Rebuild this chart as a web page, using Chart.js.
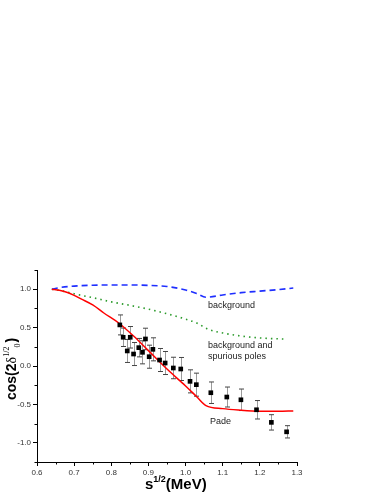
<!DOCTYPE html>
<html>
<head>
<meta charset="utf-8">
<script src="https://cdn.jsdelivr.net/npm/chart.js@4.4.1/dist/chart.umd.min.js"></script>
<style>
  html, body { margin: 0; padding: 0; background: #fff; }
  #wrap { width: 382px; height: 494px; }
</style>
</head>
<body>
<div id="wrap"><canvas id="myChart" width="382" height="494"></canvas></div>
<script>
// data points with error bars
const dataX = [0.823, 0.832, 0.843, 0.851, 0.860, 0.874, 0.884, 0.892, 0.902, 0.912, 0.930,
  0.945, 0.967, 0.987, 1.012, 1.029, 1.068, 1.111, 1.149, 1.191, 1.231, 1.272];
const dataY = [0.535, 0.374, 0.196, 0.374, 0.156, 0.239, 0.178, 0.352, 0.121, 0.217, 0.078,
  0.039, -0.026, -0.039, -0.200, -0.243, -0.348, -0.404, -0.440, -0.570, -0.734, -0.857];
const dataErr = [0.13, 0.12, 0.15, 0.14, 0.15, 0.12, 0.15, 0.14, 0.15, 0.15, 0.15,
  0.15, 0.14, 0.15, 0.15, 0.15, 0.14, 0.13, 0.14, 0.12, 0.10, 0.08];

// Pade curve
const padeX = [0.64, 0.66, 0.68, 0.70, 0.72, 0.75, 0.78, 0.82, 0.86, 0.90, 0.95, 1.00, 1.03, 1.055, 1.10, 1.15, 1.20, 1.25, 1.29];
const padeY = [1.0, 0.985, 0.96, 0.92, 0.87, 0.795, 0.69, 0.56, 0.39, 0.2, -0.04, -0.26, -0.4, -0.515, -0.555, -0.575, -0.588, -0.59, -0.585];

// background
const bgX = [0.64, 0.66, 0.70, 0.75, 0.80, 0.85, 0.90, 0.95, 1.00, 1.03, 1.055, 1.10, 1.15, 1.20, 1.25, 1.29];
const bgY = [1.0, 1.02, 1.04, 1.052, 1.055, 1.055, 1.05, 1.035, 0.99, 0.945, 0.895, 0.925, 0.955, 0.975, 0.995, 1.015];

// background and spurious poles
const spX = [0.64, 0.67, 0.70, 0.75, 0.80, 0.85, 0.90, 0.95, 1.00, 1.03, 1.06, 1.10, 1.15, 1.20, 1.27];
const spY = [1.0, 0.975, 0.94, 0.89, 0.835, 0.79, 0.74, 0.68, 0.61, 0.56, 0.48, 0.43, 0.39, 0.365, 0.35];

const xTicks = [0.6, 0.7, 0.8, 0.9, 1.0, 1.1, 1.2, 1.3];
const yTicks = [-1.0, -0.5, 0.0, 0.5, 1.0];

function pts(xs, ys) {
  return xs.map((x, i) => ({ x: x, y: ys[i] }));
}

// barres d'erreur + petites graduations + titres
const extras = {
  id: 'extras',
  beforeDatasetsDraw(chart) {
    const c = chart.ctx, xs = chart.scales.x, ys = chart.scales.y;
    c.save();
    c.lineWidth = 1;
    dataX.forEach((x, i) => {
      const px = Math.round(xs.getPixelForValue(x)) + 0.5;
      const top = ys.getPixelForValue(dataY[i] + dataErr[i]);
      const bot = ys.getPixelForValue(dataY[i] - dataErr[i]);
      c.strokeStyle = '#9a9a9a';
      c.beginPath(); c.moveTo(px, top); c.lineTo(px, bot); c.stroke();
      c.strokeStyle = '#444';
      c.beginPath();
      c.moveTo(px - 2.5, top); c.lineTo(px + 2.5, top);
      c.moveTo(px - 2.5, bot); c.lineTo(px + 2.5, bot);
      c.stroke();
    });
    c.restore();
  },
  afterDraw(chart) {
    const c = chart.ctx, xs = chart.scales.x, ys = chart.scales.y;
    const a = chart.chartArea;
    c.save();
    // minor ticks
    c.strokeStyle = '#000';
    c.lineWidth = 1;
    c.beginPath();
    for (let v = 0.65; v < 1.3; v += 0.1) {
      const px = Math.round(xs.getPixelForValue(v)) + 0.5;
      c.moveTo(px, a.bottom); c.lineTo(px, a.bottom + 2.5);
    }
    for (let v = -1.25; v <= 1.25; v += 0.5) {
      const py = Math.round(ys.getPixelForValue(v)) + 0.5;
      c.moveTo(a.left, py); c.lineTo(a.left - 2.5, py);
    }
    c.stroke();

    // annotations
    c.fillStyle = '#222';
    c.font = '9px "Liberation Sans", Arial, sans-serif';
    c.textBaseline = 'alphabetic';
    c.fillText('background', 208, 308);
    c.fillText('background and', 208, 348);
    c.fillText('spurious poles', 208, 359);
    c.fillText('Pade', 210, 424);

    // x title
    c.fillStyle = '#000';
    let x = 145;
    const base = 489;
    c.font = 'bold 15px "Liberation Sans", Arial, sans-serif';
    c.fillText('s', x, base); x += c.measureText('s').width;
    c.font = 'bold 9px "Liberation Sans", Arial, sans-serif';
    c.fillText('1/2', x, base - 7); x += c.measureText('1/2').width;
    c.font = 'bold 15px "Liberation Sans", Arial, sans-serif';
    c.fillText('(MeV)', x, base);

    // y title (rotated)
    c.translate(16, 400);
    c.rotate(-Math.PI / 2);
    x = 0;
    c.font = 'bold 14px "Liberation Sans", Arial, sans-serif';
    c.fillText('cos(2', x, 0); x += c.measureText('cos(2').width;
    c.font = '14px "Liberation Serif", "Times New Roman", serif';
    c.fillText('\u03b4', x, 0); const dx = x + c.measureText('\u03b4').width;
    c.font = '8px "Liberation Serif", "Times New Roman", serif';
    c.fillText('1/2', dx, -7);
    const w1 = c.measureText('1/2').width;
    c.fillText('0', dx + w1 - 1, 4);
    x = dx + w1 + 4;
    c.font = 'bold 14px "Liberation Sans", Arial, sans-serif';
    c.fillText(')', x, 0);
    c.restore();
  }
};

const ctx = document.getElementById('myChart').getContext('2d');
const myChart = new Chart(ctx, {
  type: 'scatter',
  data: {
    datasets: [{
      label: 'data',
      data: pts(dataX, dataY),
      showLine: false,
      pointStyle: 'rect',
      pointRadius: 3.3,
      backgroundColor: '#000',
      borderColor: '#000',
      borderWidth: 0
    }, {
      label: 'Pade',
      data: pts(padeX, padeY),
      showLine: true,
      borderColor: '#ff0000',
      borderWidth: 1.5,
      pointRadius: 0,
      cubicInterpolationMode: 'monotone'
    }, {
      label: 'background',
      data: pts(bgX, bgY),
      showLine: true,
      borderColor: '#1f2fff',
      borderWidth: 1.6,
      borderDash: [6, 4],
      pointRadius: 0,
      cubicInterpolationMode: 'monotone'
    }, {
      label: 'background and spurious poles',
      data: pts(spX, spY),
      showLine: true,
      borderColor: '#2a9a2a',
      borderWidth: 1.6,
      borderDash: [1.5, 4],
      pointRadius: 0,
      cubicInterpolationMode: 'monotone'
    }]
  },
  options: {
    responsive: false,
    animation: false,
    layout: { padding: { top: 270, right: 85, left: 0, bottom: 0 } },
    plugins: { legend: { display: false }, tooltip: { enabled: false } },
    scales: {
      x: {
        type: 'linear',
        min: 0.6, max: 1.3,
        afterFit(s) { s.height = 32; },
        afterBuildTicks(s) { s.ticks = xTicks.map(v => ({ value: v })); },
        grid: { drawOnChartArea: false, tickLength: 4, tickColor: '#000' },
        border: { display: true, color: '#000', width: 1 },
        ticks: {
          padding: 2,
          color: '#333',
          font: { size: 8, family: '"Liberation Sans", Arial, sans-serif' },
          callback: v => v.toFixed(1)
        }
      },
      y: {
        min: -1.25, max: 1.25,
        afterFit(s) { s.width = 37; },
        afterBuildTicks(s) { s.ticks = yTicks.map(v => ({ value: v })); },
        grid: { drawOnChartArea: false, tickLength: 4, tickColor: '#000' },
        border: { display: true, color: '#000', width: 1 },
        ticks: {
          padding: 2,
          color: '#333',
          font: { size: 8, family: '"Liberation Sans", Arial, sans-serif' },
          callback: v => v.toFixed(1)
        }
      }
    }
  },
  plugins: [extras]
});
</script>
</body>
</html>
